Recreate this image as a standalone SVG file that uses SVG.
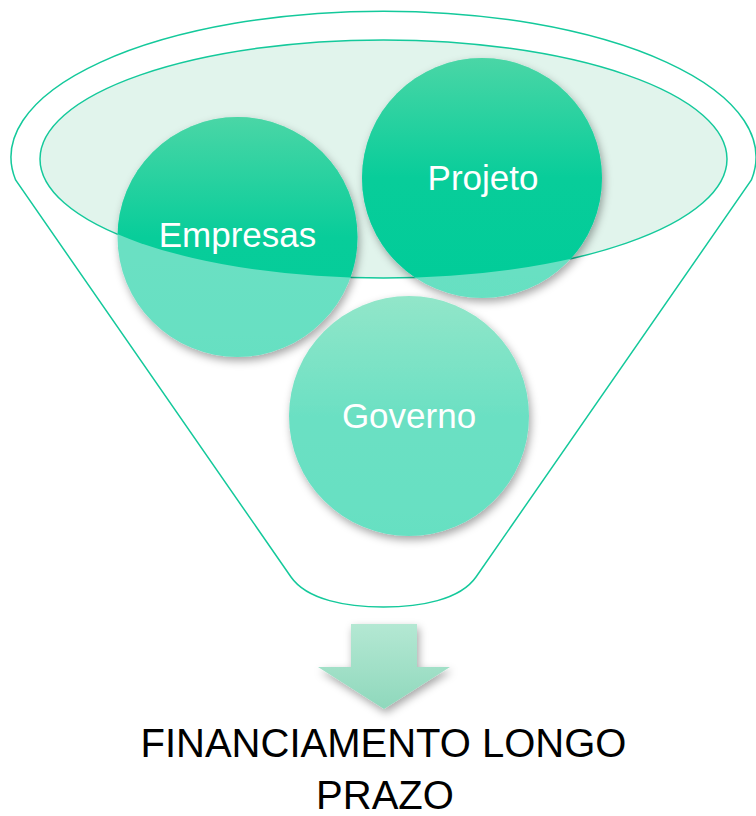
<svg xmlns="http://www.w3.org/2000/svg" width="756" height="816" viewBox="0 0 756 816">
  <style>
    .funnel { fill: none; stroke: #14c99b; stroke-width: 1.5; }
    .rim { fill: #e1f4ec; stroke: #14c99b; stroke-width: 1.5; }
    .lbl { font-family: "Liberation Sans", Arial, sans-serif; font-size: 35px; fill: #ffffff; text-anchor: middle; }
    .out { font-family: "Liberation Sans", Arial, sans-serif; font-size: 40px; fill: #000000; text-anchor: middle; }
  </style>
  <defs>
    <linearGradient id="gSat" x1="0" y1="0" x2="0" y2="1">
      <stop offset="0" stop-color="#4ad6a6"/>
      <stop offset="0.5" stop-color="#08cd9a"/>
      <stop offset="1" stop-color="#00cc99"/>
    </linearGradient>
    <linearGradient id="gLight" x1="0" y1="0" x2="0" y2="1">
      <stop offset="0" stop-color="#92e6c9"/>
      <stop offset="0.5" stop-color="#6be0c3"/>
      <stop offset="1" stop-color="#66e0c2"/>
    </linearGradient>
    <linearGradient id="gArrow" x1="0" y1="0" x2="0" y2="1">
      <stop offset="0" stop-color="#b4e8d3"/>
      <stop offset="1" stop-color="#8fd8bc"/>
    </linearGradient>
    <clipPath id="rimClip">
      <ellipse cx="383.5" cy="159" rx="343.5" ry="119"/>
    </clipPath>
    <filter id="shadow" x="-20%" y="-20%" width="140%" height="140%">
      <feDropShadow dx="2" dy="4" stdDeviation="4" flood-color="#000000" flood-opacity="0.35"/>
    </filter>
  </defs>

  <g id="funnel">
    <path class="funnel" d="M 15.6 180 A 372.5 146 0 1 1 751.4 180 L 476 577 C 460 600 420 607 383.5 607 C 347 607 307 600 291 577 Z"/>
    <ellipse class="rim" cx="383.5" cy="159" rx="343.5" ry="119"/>
  </g>

  <g id="node-empresas">
    <circle cx="237.5" cy="237" r="120" fill="url(#gLight)" filter="url(#shadow)"/>
    <circle cx="237.5" cy="237" r="120" fill="url(#gSat)" clip-path="url(#rimClip)"/>
    <text class="lbl" x="237.5" y="247">Empresas</text>
  </g>

  <g id="node-projeto">
    <circle cx="482" cy="178" r="120" fill="url(#gLight)" filter="url(#shadow)"/>
    <circle cx="482" cy="178" r="120" fill="url(#gSat)" clip-path="url(#rimClip)"/>
    <text class="lbl" x="483" y="190">Projeto</text>
  </g>

  <g id="node-governo">
    <circle cx="409" cy="416" r="120" fill="url(#gLight)" filter="url(#shadow)"/>
    <text class="lbl" x="409" y="428">Governo</text>
  </g>

  <g id="connectors">
    <polygon points="351,624 417,624 417,667 450,667 384,709 318,667 351,667" fill="url(#gArrow)" filter="url(#shadow)"/>
  </g>

  <g id="node-resultado">
    <text class="out" x="383.5" y="757">FINANCIAMENTO LONGO</text>
    <text class="out" x="385" y="809">PRAZO</text>
  </g>
</svg>
